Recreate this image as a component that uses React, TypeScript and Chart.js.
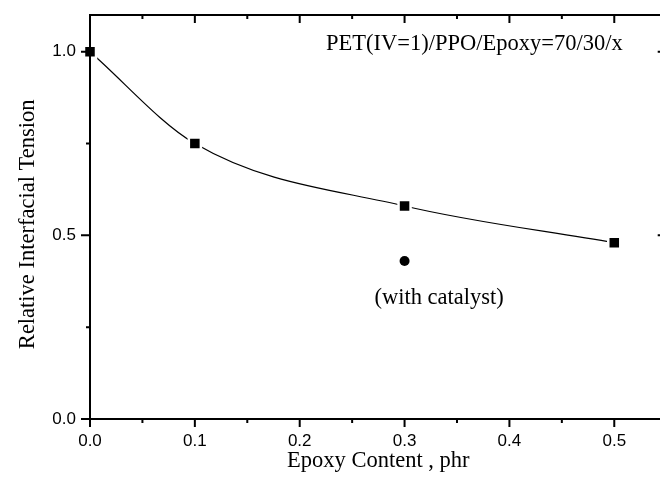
import { useEffect, useRef } from "react";
import { Chart, registerables } from "chart.js";

Chart.register(...registerables);

// Measured interfacial tension (relative) vs. epoxy loading
const epoxyContent = [0, 0.1, 0.3, 0.5];
const relativeTension = [1.0, 0.75, 0.58, 0.48];

// Single run with catalyst added
const catalystContent = [0.3];
const catalystTension = [0.43];

// Axis ticks
const xTickValues = [0, 0.1, 0.2, 0.3, 0.4, 0.5];
const xTickLabels = ["0.0", "0.1", "0.2", "0.3", "0.4", "0.5"];
const yTickValues = [0, 0.5, 1.0];
const yTickLabels = ["0.0", "0.5", "1.0"];
const yMinorValues = [0.25, 0.75];

const X_MAX = 0.55;
const Y_MAX = 1.1;
const X_STEP = 0.05;

const xTitle = "Epoxy Content , phr";
const yTitle = "Relative Interfacial Tension";
const seriesNote = "PET(IV=1)/PPO/Epoxy=70/30/x";
const catalystNote = "(with catalyst)";

const SANS = '"Liberation Sans", Arial, sans-serif';
const SERIF = '"Liberation Serif", "Times New Roman", serif';

const framePlugin = {
  id: "originFrame",
  afterDraw(chart: any) {
    const ctx = chart.ctx as CanvasRenderingContext2D;
    const { left, right, top, bottom } = chart.chartArea;
    const xs = chart.scales.x;
    const ys = chart.scales.y;
    ctx.save();
    ctx.strokeStyle = "#000";
    ctx.fillStyle = "#000";

    // frame
    ctx.lineWidth = 2;
    ctx.strokeRect(left, top, right - left, bottom - top);

    // x ticks: bottom outward, top inward
    const nX = Math.round(X_MAX / X_STEP);
    for (let i = 0; i <= nX; i++) {
      const v = i * X_STEP;
      const px = xs.getPixelForValue(v);
      const len = i % 2 === 0 ? 8 : 4;
      ctx.beginPath();
      ctx.moveTo(px, bottom);
      ctx.lineTo(px, bottom + len);
      ctx.moveTo(px, top);
      ctx.lineTo(px, top + len);
      ctx.stroke();
    }

    // y ticks: left outward, right inward
    const yAll = [...yTickValues.map((v) => [v, 9]), ...yMinorValues.map((v) => [v, 4])];
    for (const [v, len] of yAll) {
      const py = ys.getPixelForValue(v);
      ctx.beginPath();
      ctx.moveTo(left, py);
      ctx.lineTo(left - len, py);
      ctx.moveTo(right, py);
      ctx.lineTo(right - len, py);
      ctx.stroke();
    }

    // tick labels
    ctx.font = `17px ${SANS}`;
    ctx.textAlign = "center";
    ctx.textBaseline = "middle";
    xTickValues.forEach((v, i) => {
      ctx.fillText(xTickLabels[i], xs.getPixelForValue(v), bottom + 22);
    });
    ctx.textAlign = "right";
    yTickValues.forEach((v, i) => {
      ctx.fillText(yTickLabels[i], left - 14, ys.getPixelForValue(v));
    });

    // axis titles
    ctx.font = `22.5px ${SERIF}`;
    ctx.textAlign = "center";
    ctx.fillText(xTitle, xs.getPixelForValue(0.275), bottom + 42);
    ctx.save();
    ctx.translate(28, ys.getPixelForValue(0.53));
    ctx.rotate(-Math.PI / 2);
    ctx.fillText(yTitle, 0, 0);
    ctx.restore();

    // notes
    ctx.textAlign = "right";
    ctx.fillText(seriesNote, xs.getPixelForValue(0.508), ys.getPixelForValue(1.02));
    ctx.textAlign = "center";
    ctx.fillText(
      catalystNote,
      xs.getPixelForValue(catalystContent[0] + 0.033),
      ys.getPixelForValue(catalystTension[0] - 0.1)
    );
    ctx.restore();
  },
};

export default function App() {
  const canvasRef = useRef<HTMLCanvasElement | null>(null);

  useEffect(() => {
    const canvas = canvasRef.current;
    if (!canvas) return;
    const mainPoints = epoxyContent.map((x, i) => ({ x, y: relativeTension[i] }));
    const catalystPoints = catalystContent.map((x, i) => ({ x, y: catalystTension[i] }));

    const chart = new Chart(canvas, {
      type: "scatter",
      data: {
        datasets: [
          {
            data: mainPoints,
            showLine: false,
            pointStyle: "rect",
            pointRadius: 8.5,
            pointBackgroundColor: "#000",
            pointBorderColor: "#fff",
            pointBorderWidth: 2.5,
            clip: false,
          },
          {
            data: catalystPoints,
            showLine: false,
            pointStyle: "circle",
            pointRadius: 5,
            pointBackgroundColor: "#000",
            pointBorderColor: "#000",
            pointBorderWidth: 0,
            clip: false,
          },
          {
            data: mainPoints,
            showLine: true,
            borderColor: "#000",
            borderWidth: 1.2,
            cubicInterpolationMode: "monotone",
            pointRadius: 0,
            clip: false,
          },
        ],
      },
      options: {
        responsive: false,
        maintainAspectRatio: false,
        animation: false,
        devicePixelRatio: 1,
        layout: { padding: { left: 90, right: 13.3, top: 15, bottom: 64 } },
        scales: {
          x: { type: "linear", display: false, min: 0, max: X_MAX },
          y: { type: "linear", display: false, min: 0, max: Y_MAX },
        },
        plugins: { legend: { display: false }, tooltip: { enabled: false } },
        events: [],
      },
      plugins: [framePlugin],
    });
    return () => chart.destroy();
  }, []);

  return (
    <div
      style={{
        position: "fixed",
        left: 0,
        top: 0,
        width: 660,
        height: 483,
        overflow: "hidden",
        background: "#fff",
      }}
    >
      <canvas ref={canvasRef} width={680} height={483} style={{ width: 680, height: 483, display: "block" }} />
    </div>
  );
}
